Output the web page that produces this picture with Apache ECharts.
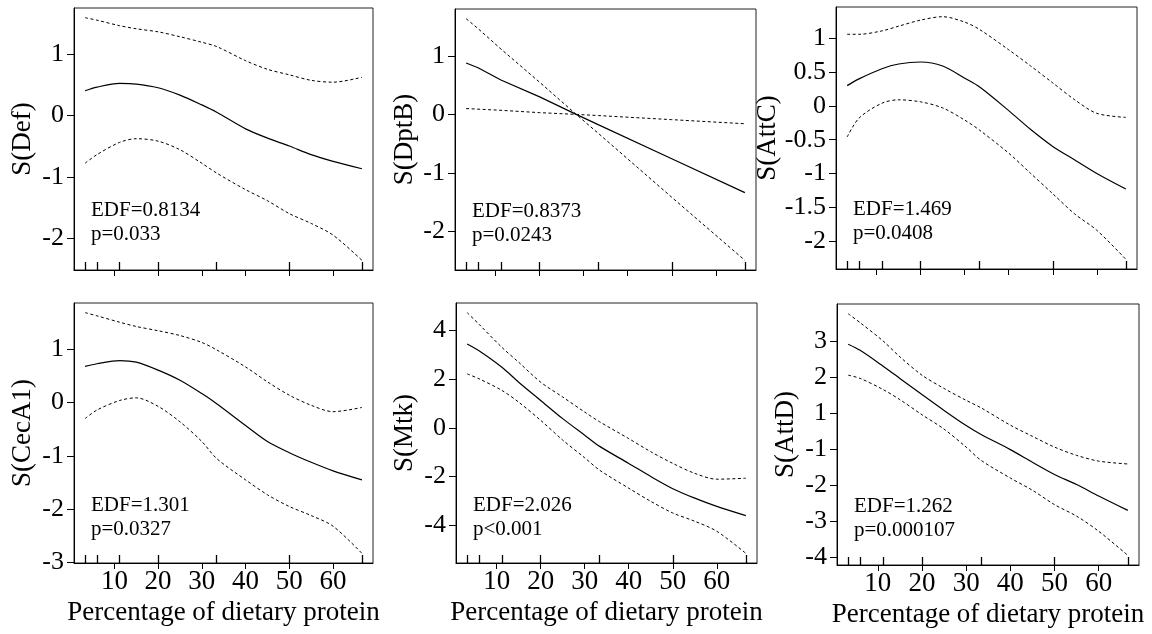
<!DOCTYPE html>
<html><head><meta charset="utf-8">
<script src="https://cdn.jsdelivr.net/npm/echarts@6/dist/echarts.min.js"></script>
<style>html,body{margin:0;padding:0;background:#fff}#c{width:1152px;height:634px}</style>
</head><body><div id="c"></div>
<script>
// ---------- data ----------
const xValues = [3.3, 6, 11.2, 15, 20, 25, 30, 33.4, 40, 45, 50, 55, 60, 66.6];
const rugX = [3.3, 6, 11.2, 20, 33.4, 50, 66.6];
const xTicks = [10, 20, 30, 40, 50, 60];

const defFit   = [0.40, 0.46, 0.52, 0.51, 0.45, 0.33, 0.17, 0.05, -0.22, -0.37, -0.50, -0.64, -0.75, -0.87];
const defUpper = [1.59, 1.55, 1.46, 1.41, 1.36, 1.28, 1.19, 1.12, 0.89, 0.75, 0.66, 0.57, 0.54, 0.62];
const defLower = [-0.78, -0.64, -0.44, -0.38, -0.42, -0.56, -0.78, -0.94, -1.21, -1.39, -1.60, -1.76, -1.95, -2.36];
const defTicks = [-2, -1, 0, 1];

const dptbX   = [3.3, 6, 11.2, 20, 28.3, 33.4, 50, 66.6];
const dptbFit = [0.88, 0.80, 0.59, 0.30, 0.00, -0.18, -0.76, -1.34];
const dptbSeA = [1.64, 1.47, 1.12, 0.55, 0.00, -0.33, -1.42, -2.50];
const dptbSeB = [0.10, 0.09, 0.07, 0.03, 0.00, -0.02, -0.09, -0.16];
const dptbTicks = [-2, -1, 0, 1];

const attcFit   = [0.30, 0.40, 0.55, 0.62, 0.65, 0.59, 0.41, 0.28, -0.07, -0.35, -0.60, -0.80, -1.00, -1.23];
const attcUpper = [1.06, 1.06, 1.11, 1.18, 1.27, 1.32, 1.24, 1.13, 0.83, 0.59, 0.34, 0.09, -0.11, -0.17];
const attcLower = [-0.46, -0.18, 0.04, 0.09, 0.06, -0.03, -0.21, -0.36, -0.70, -1.00, -1.30, -1.60, -1.84, -2.27];
const attcTicks = [-2, -1.5, -1, -0.5, 0, 0.5, 1];

const cecFit   = [0.68, 0.73, 0.79, 0.76, 0.61, 0.42, 0.17, -0.02, -0.43, -0.73, -0.94, -1.12, -1.28, -1.45];
const cecUpper = [1.69, 1.63, 1.51, 1.43, 1.35, 1.26, 1.13, 0.99, 0.67, 0.39, 0.14, -0.05, -0.17, -0.09];
const cecLower = [-0.30, -0.14, 0.04, 0.09, -0.07, -0.36, -0.73, -1.05, -1.45, -1.73, -1.95, -2.12, -2.32, -2.83];
const cecTicks = [-3, -2, -1, 0, 1];

const mtkFit   = [3.45, 3.17, 2.49, 1.88, 1.13, 0.38, -0.30, -0.76, -1.46, -2.00, -2.50, -2.89, -3.23, -3.61];
const mtkUpper = [4.74, 4.26, 3.31, 2.70, 1.88, 1.27, 0.65, 0.25, -0.44, -0.98, -1.46, -1.87, -2.11, -2.07];
const mtkLower = [2.22, 2.02, 1.54, 1.06, 0.31, -0.50, -1.23, -1.74, -2.48, -3.02, -3.50, -3.84, -4.25, -5.16];
const mtkTicks = [-4, -2, 0, 2, 4];

const attdFit   = [1.91, 1.74, 1.30, 0.96, 0.51, 0.07, -0.35, -0.60, -1.02, -1.37, -1.71, -1.99, -2.31, -2.71];
const attdUpper = [2.76, 2.51, 2.00, 1.56, 1.05, 0.68, 0.35, 0.14, -0.34, -0.65, -0.95, -1.18, -1.34, -1.42];
const attdLower = [1.05, 0.96, 0.65, 0.37, -0.05, -0.45, -0.95, -1.32, -1.81, -2.15, -2.55, -2.87, -3.29, -3.96];
const attdTicks = [2, 1, 0, -1, -2, -3, -4];
const attdTickLabels = ['3', '2', '1', '-1', '-2', '-3', '-4'];

const yTitles = ['S(Def)', 'S(DptB)', 'S(AttC)', 'S(CecA1)', 'S(Mtk)', 'S(AttD)'];
const edfLabels = ['EDF=0.8134', 'EDF=0.8373', 'EDF=1.469', 'EDF=1.301', 'EDF=2.026', 'EDF=1.262'];
const pLabels = ['p=0.033', 'p=0.0243', 'p=0.0408', 'p=0.0327', 'p<0.001', 'p=0.000107'];
const xTitle = 'Percentage of dietary protein';

// ---------- layout ----------
const FONT = '"Liberation Serif", "Times New Roman", serif';
const panels = [
  {x: xValues, fit: defFit, a: defUpper, b: defLower, ticks: defTicks, grid: {left: 74, top: 8, width: 299, height: 262}, gap: 38, bottom: false, smooth: 0.3},
  {x: dptbX, fit: dptbFit, a: dptbSeA, b: dptbSeB, ticks: dptbTicks, grid: {left: 455, top: 9, width: 301, height: 261}, gap: 37, bottom: false, smooth: false},
  {x: xValues, fit: attcFit, a: attcUpper, b: attcLower, ticks: attcTicks, grid: {left: 836, top: 7, width: 301, height: 262}, gap: 45, bottom: false, smooth: 0.3},
  {x: xValues, fit: cecFit, a: cecUpper, b: cecLower, ticks: cecTicks, grid: {left: 74, top: 303, width: 299, height: 260}, gap: 38, bottom: true, smooth: 0.3},
  {x: xValues, fit: mtkFit, a: mtkUpper, b: mtkLower, ticks: mtkTicks, grid: {left: 456, top: 303, width: 301, height: 260}, gap: 38, bottom: true, smooth: 0.3},
  {x: xValues, fit: attdFit, a: attdUpper, b: attdLower, ticks: attdTicks, labels: attdTickLabels, grid: {left: 837, top: 304, width: 302, height: 261}, gap: 38, bottom: true, smooth: 0.3}
];

const xMin = Math.min(...rugX) - 0.04 * (Math.max(...rugX) - Math.min(...rugX));
const xMax = Math.max(...rugX) + 0.04 * (Math.max(...rugX) - Math.min(...rugX));

const grid = [], xAxis = [], yAxis = [], series = [], graphic = [];
panels.forEach((p, i) => {
  grid.push(Object.assign({show: true, borderColor: '#222', borderWidth: 1, backgroundColor: 'transparent', containLabel: false, outerBoundsMode: 'none'}, p.grid));
  const all = p.fit.concat(p.a, p.b);
  const lo = Math.min(...all), hi = Math.max(...all), pad = 0.04 * (hi - lo);
  xAxis.push({
    type: 'value', gridIndex: i, min: xMin, max: xMax, position: 'bottom',
    axisLine: {show: true, onZero: false, lineStyle: {color: '#000', width: 1}},
    axisTick: {show: true, customValues: xTicks, length: 6, lineStyle: {color: '#000', width: 1}},
    axisLabel: {show: p.bottom, customValues: xTicks, color: '#000', fontFamily: FONT, fontSize: 27, margin: 5},
    splitLine: {show: false},
    name: p.bottom ? xTitle : '', nameLocation: 'middle', nameGap: 36,
    nameTextStyle: {color: '#000', fontFamily: FONT, fontSize: 27}
  });
  xAxis.push({
    type: 'value', gridIndex: i, min: xMin, max: xMax, position: 'bottom',
    axisLine: {show: false, onZero: false},
    axisTick: {show: true, inside: true, customValues: rugX, length: 8, lineStyle: {color: '#000', width: 1.3}},
    axisLabel: {show: false}, splitLine: {show: false}
  });
  yAxis.push({
    type: 'value', gridIndex: i, min: lo - pad, max: hi + pad,
    axisLine: {show: true, onZero: false, lineStyle: {color: '#000', width: 1}},
    axisTick: {show: true, customValues: p.ticks, length: 7, lineStyle: {color: '#000', width: 1}},
    axisLabel: {show: true, customValues: p.ticks, color: '#000', fontFamily: FONT, fontSize: 26, margin: 10,
      formatter: v => p.labels ? p.labels[p.ticks.indexOf(v)] : String(v)},
    splitLine: {show: false},
    name: yTitles[i], nameLocation: 'middle', nameGap: p.gap,
    nameTextStyle: {color: '#000', fontFamily: FONT, fontSize: 27}
  });
  const mk = (arr, dashed, w) => ({
    type: 'line', xAxisIndex: 2 * i, yAxisIndex: i,
    data: p.x.map((v, k) => [v, arr[k]]),
    showSymbol: false, symbol: 'none', smooth: p.smooth,
    lineStyle: {color: '#000', width: w, type: dashed ? [3, 2.5] : 'solid'},
    silent: true, animation: false
  });
  series.push(mk(p.fit, false, 1.2), mk(p.a, true, 1), mk(p.b, true, 1));
  graphic.push({
    type: 'text', left: p.grid.left + 17, top: p.grid.top + 190,
    style: {text: edfLabels[i] + '\n' + pLabels[i], font: '21px ' + FONT, fill: '#000', lineHeight: 24}
  });
});

const chart = echarts.init(document.getElementById('c'), null, {renderer: 'canvas'});
chart.setOption({animation: false, backgroundColor: '#fff', grid, xAxis, yAxis, series, graphic});
</script>
</body></html>
